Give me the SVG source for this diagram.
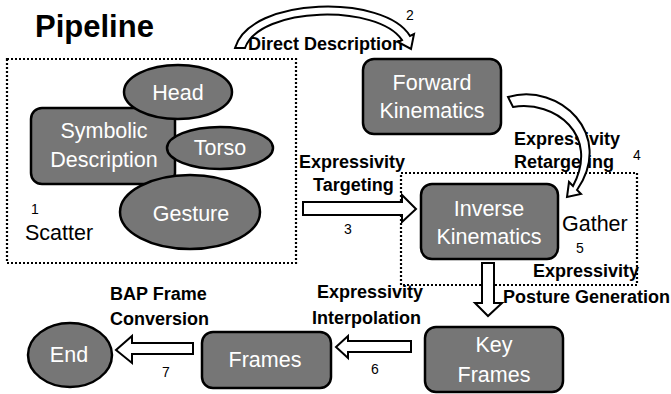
<svg xmlns="http://www.w3.org/2000/svg" width="671" height="394" viewBox="0 0 671 394">
<style>
.node{fill:#767676;stroke:#000;stroke-width:2.5}
.nt{font-family:"Liberation Sans",Arial,sans-serif;font-size:21.5px;fill:#fff;text-anchor:middle}
.bl{font-family:"Liberation Sans",Arial,sans-serif;font-size:18px;font-weight:bold;fill:#000}
.num{font-family:"Liberation Sans",Arial,sans-serif;font-size:14px;fill:#000}
.plain{font-family:"Liberation Sans",Arial,sans-serif;font-size:21.5px;fill:#000}
.dot{fill:none;stroke:#000;stroke-width:2.2;stroke-dasharray:2 2}
.arr{fill:#fff;stroke:#000;stroke-width:2;stroke-linejoin:miter}
</style>
<rect width="671" height="394" fill="#fff"/>
<text x="35" y="37" font-family="Liberation Sans,Arial,sans-serif" font-size="31" font-weight="bold">Pipeline</text>

<g id="scatter-group">
<rect class="dot" x="7" y="59" width="289" height="204"/>
<text class="num" x="31" y="214">1</text>
<text class="plain" x="25" y="240">Scatter</text>
</g>
<g id="gather-group">
<rect class="dot" x="401" y="173" width="236" height="112"/>
<text class="plain" x="562" y="231">Gather</text>
<text class="num" x="576" y="253">5</text>
</g>

<g id="symbolic">
<rect class="node" x="31" y="108" width="144" height="76" rx="11"/>
<text class="nt" x="104" y="138">Symbolic</text>
<text class="nt" x="104" y="167">Description</text>
</g>
<g id="head">
<ellipse class="node" cx="178" cy="92" rx="54" ry="27"/>
<text class="nt" x="178" y="100">Head</text>
</g>
<g id="torso">
<ellipse class="node" cx="220" cy="148" rx="53" ry="21"/>
<text class="nt" x="220" y="155">Torso</text>
</g>
<g id="gesture">
<ellipse class="node" cx="190" cy="212" rx="70" ry="37"/>
<text class="nt" x="191" y="221">Gesture</text>
</g>
<g id="forward-kinematics">
<rect class="node" x="363" y="59" width="138" height="75" rx="11"/>
<text class="nt" x="432" y="90">Forward</text>
<text class="nt" x="432" y="118">Kinematics</text>
</g>
<g id="inverse-kinematics">
<rect class="node" x="421" y="184" width="137" height="75" rx="11"/>
<text class="nt" x="489" y="216">Inverse</text>
<text class="nt" x="489" y="244">Kinematics</text>
</g>
<g id="key-frames">
<rect class="node" x="425" y="327" width="138" height="65" rx="11"/>
<text class="nt" x="494" y="352">Key</text>
<text class="nt" x="494" y="382">Frames</text>
</g>
<g id="frames">
<rect class="node" x="202" y="332" width="129" height="56" rx="11"/>
<text class="nt" x="265" y="367">Frames</text>
</g>
<g id="end">
<ellipse class="node" cx="70" cy="355" rx="42" ry="32"/>
<text class="nt" x="69" y="362">End</text>
</g>

<g id="connectors">
<text class="bl" x="248" y="50">Direct Description</text>
<text class="num" x="406" y="20">2</text>
<path class="arr" d="M235,48 C250,-4 385,-6 410,36 L414,34 L411,49 L398,42 L402,40 C378,4 260,6 245,48 Z"/>

<text class="bl" x="514" y="145">Expressivity</text>
<text class="bl" x="514" y="168">Retargeting</text>
<text class="num" x="633" y="160">4</text>
<path class="arr" d="M508,97 C560,82 615,135 577,190 L581,194 L567,197 L569,182 L573,186 C600,135 555,100 513,107 Z"/>

<text class="bl" x="299" y="168">Expressivity</text>
<text class="bl" x="313" y="191">Targeting</text>
<text class="num" x="344" y="234">3</text>
<path class="arr" d="M303,202 L402,202 L402,195 L416,209 L402,222 L402,215 L303,215 Z"/>

<text class="bl" x="533" y="277">Expressivity</text>
<text class="bl" x="503" y="303">Posture Generation</text>
<path class="arr" d="M482,263 L494,263 L494,303 L502,303 L488,316 L475,303 L482,303 Z"/>

<text class="bl" x="317" y="298">Expressivity</text>
<text class="bl" x="312" y="324">Interpolation</text>
<text class="num" x="371" y="374">6</text>
<path class="arr" d="M411,341 L348,341 L348,336 L336,347 L348,358 L348,352 L411,352 Z"/>

<text class="bl" x="110" y="300">BAP Frame</text>
<text class="bl" x="110" y="325">Conversion</text>
<text class="num" x="162" y="377">7</text>
<path class="arr" d="M193,343 L132,343 L132,336 L116,350 L132,363 L132,354 L193,354 Z"/>
</g>
</svg>
